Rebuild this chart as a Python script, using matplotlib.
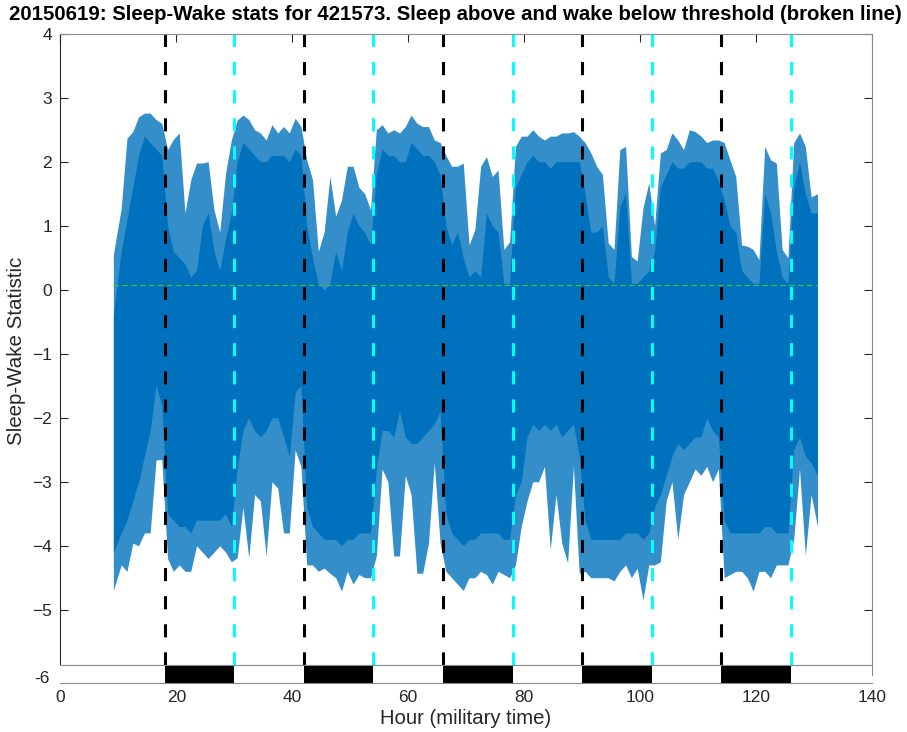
import numpy as np
import matplotlib
matplotlib.use('Agg')
import matplotlib.pyplot as plt

plt.rcParams['font.family'] = ['Liberation Sans', 'DejaVu Sans']

# hourly samples of the sleep-wake statistic: spike extremes and dense core band
hour = np.arange(9.5, 131.0, 1.0)
hour[0] = 9.15
hour[-1] = 130.6

stat_max = [0.55, 1.27, 2.37, 2.47, 2.70, 2.76, 2.76, 2.66, 2.60, 2.19,
            2.35, 2.45, 1.20, 1.72, 1.98, 1.98, 2.00, 1.25, 0.90, 1.82,
            2.34, 2.65, 2.73, 2.66, 2.50, 2.45, 2.34, 2.58, 2.45, 2.55,
            2.45, 2.68, 2.55, 2.03, 1.72, 0.60, 0.90, 1.77, 1.15, 1.40,
            1.93, 1.93, 1.60, 1.50, 1.25, 2.50, 2.58, 2.45, 2.50, 2.45,
            2.55, 2.73, 2.60, 2.55, 2.55, 2.34, 2.30, 2.10, 1.93, 1.93,
            1.98, 0.70, 0.94, 1.93, 2.08, 1.77, 1.87, 0.63, 0.75, 2.24,
            2.40, 2.40, 2.50, 2.40, 2.34, 2.40, 2.40, 2.45, 2.45, 2.47,
            2.40, 2.30, 2.14, 1.93, 1.80, 0.73, 0.63, 2.19, 2.24, 0.52,
            0.45, 1.28, 1.67, 1.00, 2.14, 2.19, 2.45, 2.34, 2.19, 2.50,
            2.47, 2.40, 2.30, 2.34, 2.34, 2.30, 2.03, 1.77, 0.70, 0.68,
            0.63, 0.47, 2.24, 2.03, 1.98, 0.63, 0.50, 2.30, 2.45, 2.24,
            1.45, 1.50]

stat_min = [-4.70, -4.30, -4.40, -3.96, -4.00, -3.80, -3.80, -2.66, -2.65, -4.20,
            -4.40, -4.30, -4.40, -4.40, -4.00, -4.10, -4.20, -4.10, -4.00, -4.10,
            -4.25, -4.19, -3.40, -4.19, -3.20, -3.30, -4.16, -3.00, -3.10, -3.80,
            -3.80, -2.50, -2.76, -4.30, -4.30, -4.40, -4.35, -4.43, -4.50, -4.71,
            -4.40, -4.60, -4.45, -4.50, -4.50, -4.16, -2.80, -3.00, -4.16, -4.16,
            -2.90, -3.20, -4.43, -4.43, -3.96, -2.70, -3.96, -4.40, -4.50, -4.60,
            -4.70, -4.50, -4.50, -4.40, -4.45, -4.60, -4.40, -4.45, -4.50, -4.30,
            -3.70, -3.30, -3.00, -3.00, -2.76, -4.06, -3.20, -3.96, -4.27, -2.76,
            -4.43, -4.40, -4.50, -4.50, -4.50, -4.50, -4.55, -4.40, -4.30, -4.50,
            -4.35, -4.85, -4.30, -4.30, -4.25, -3.30, -3.00, -3.90, -3.20, -3.00,
            -2.80, -2.90, -2.76, -3.00, -2.80, -4.50, -4.45, -4.40, -4.40, -4.50,
            -4.71, -4.40, -4.40, -4.50, -4.30, -4.30, -4.30, -3.90, -2.80, -4.15,
            -3.20, -3.70]

core_max = [-0.40, 0.60, 1.10, 1.60, 2.10, 2.40, 2.30, 2.20, 2.10, 1.00,
            0.60, 0.50, 0.40, 0.20, 0.30, 1.00, 1.20, 0.60, 0.30, 0.80,
            1.20, 2.00, 2.30, 2.20, 2.10, 2.00, 2.00, 2.10, 2.10, 2.10,
            2.00, 2.20, 2.10, 1.00, 0.50, 0.10, 0.00, 0.10, 0.60, 0.30,
            0.90, 1.20, 1.00, 0.90, 0.70, 1.80, 2.20, 2.10, 2.10, 2.00,
            2.00, 2.30, 2.20, 2.10, 2.10, 2.00, 1.80, 1.00, 0.70, 0.90,
            0.50, 0.20, 0.30, 0.20, 1.20, 1.00, 0.90, 0.10, 0.10, 1.60,
            1.80, 2.00, 2.10, 2.00, 2.00, 1.90, 2.00, 2.00, 2.00, 2.00,
            2.00, 1.50, 0.90, 0.90, 1.00, 0.20, 0.10, 1.30, 1.50, 0.10,
            0.10, 0.20, 0.30, 0.60, 1.60, 1.80, 2.00, 1.90, 1.90, 2.00,
            2.00, 2.00, 1.90, 1.90, 1.70, 1.40, 1.00, 0.90, 0.30, 0.20,
            0.10, 0.10, 1.50, 1.20, 0.60, 0.20, 0.10, 1.60, 2.00, 1.50,
            1.20, 1.20]

core_min = [-4.10, -3.80, -3.60, -3.30, -3.00, -2.60, -2.20, -1.50, -1.80, -3.50,
            -3.60, -3.70, -3.70, -3.80, -3.60, -3.60, -3.60, -3.60, -3.60, -3.50,
            -3.70, -2.80, -2.20, -2.00, -2.20, -2.30, -2.20, -2.00, -2.00, -2.30,
            -2.60, -1.60, -1.50, -3.40, -3.70, -3.80, -3.90, -3.90, -3.90, -4.00,
            -3.90, -3.90, -3.80, -3.80, -3.80, -2.80, -2.20, -2.20, -2.30, -1.90,
            -2.30, -2.40, -2.40, -2.30, -2.20, -2.10, -1.90, -3.50, -3.80, -3.90,
            -4.00, -3.90, -3.90, -3.80, -3.80, -3.80, -3.80, -3.90, -3.90, -3.20,
            -3.00, -2.30, -2.10, -2.20, -2.10, -2.20, -2.10, -2.30, -2.20, -2.10,
            -2.60, -3.60, -3.90, -3.90, -3.90, -3.90, -3.90, -3.90, -3.80, -3.80,
            -3.80, -3.90, -3.80, -3.40, -3.20, -2.90, -2.60, -2.40, -2.50, -2.40,
            -2.30, -2.30, -2.00, -2.20, -2.30, -3.60, -3.80, -3.80, -3.80, -3.80,
            -3.80, -3.80, -3.70, -3.70, -3.80, -3.80, -3.80, -2.50, -2.30, -2.60,
            -2.70, -2.90]

threshold = 0.07

# lights off (black) / lights on (cyan) hours
dark_start = [18, 42, 66, 90, 114]
dark_end = [30, 54, 78, 102, 126]

x_ticks = [0, 20, 40, 60, 80, 100, 120, 140]
y_ticks = [-5, -4, -3, -2, -1, 0, 1, 2, 3, 4]

blue = '#0072BD'
grey = '#262626'
edge = '#8c8c8c'

fig = plt.figure(figsize=(9.07, 7.32), dpi=100)
ax = fig.add_axes([0.0665, 0.0915, 0.8949, 0.8624])
bar = fig.add_axes([0.0665, 0.0663, 0.8949, 0.0253])

# signal: slightly lighter outer band for the spikes, solid inner band
ax.fill_between(hour, stat_min, stat_max, color=blue, alpha=0.8, lw=0)
ax.fill_between(hour, core_min, core_max, color=blue, lw=0)

ax.plot([hour[0], hour[-1]], [threshold, threshold], color='#33cc33',
        lw=0.8, dashes=(5, 3))

for s, e in zip(dark_start, dark_end):
    ax.axvline(s, color='black', lw=2.2, dashes=(4.3, 4.9))
    ax.axvline(e, color='#00ffff', lw=2.2, dashes=(4.3, 4.9))
    bar.axvspan(s, e, color='black', lw=0)

ax.set_xlim(0, 140)
ax.set_ylim(-5.864, 4)
ax.set_xticks(x_ticks)
ax.set_yticks(y_ticks)
ax.tick_params(axis='x', bottom=False, top=True, labelbottom=False,
               direction='in', length=6, color=grey)
ax.tick_params(axis='y', left=True, right=True, direction='in', length=6,
               labelsize=12.5, labelcolor=grey, color=grey, pad=6)
ax.spines['left'].set_color(grey)
for side in ['top', 'right', 'bottom']:
    ax.spines[side].set_color(edge)
ax.spines['right'].set_bounds(-6.02, 4)

bar.set_xlim(0, 140)
bar.set_ylim(0, 1)
bar.set_xticks(x_ticks)
bar.set_yticks([0.37])
bar.set_yticklabels(['-6'])
bar.tick_params(length=0, labelsize=12.5, labelcolor=grey)
bar.tick_params(axis='x', pad=5)
bar.tick_params(axis='y', pad=8)
bar.spines['left'].set_visible(False)
bar.spines['right'].set_visible(False)
bar.spines['top'].set_color(edge)
bar.spines['bottom'].set_color(edge)

fig.text(455 / 907, 1 - 14 / 732,
         '20150619: Sleep-Wake stats for 421573. Sleep above and wake below threshold (broken line)',
         ha='center', va='center', fontsize=14.7, fontweight='bold')
fig.text(466 / 907, 1 - 718 / 732, 'Hour (military time)', ha='center',
         va='center', fontsize=14.6, color=grey)
fig.text(17 / 907, 1 - 351 / 732, 'Sleep-Wake Statistic', ha='center',
         va='center', rotation=90, fontsize=14.8, color=grey)

fig.savefig('out.png', dpi=100)
